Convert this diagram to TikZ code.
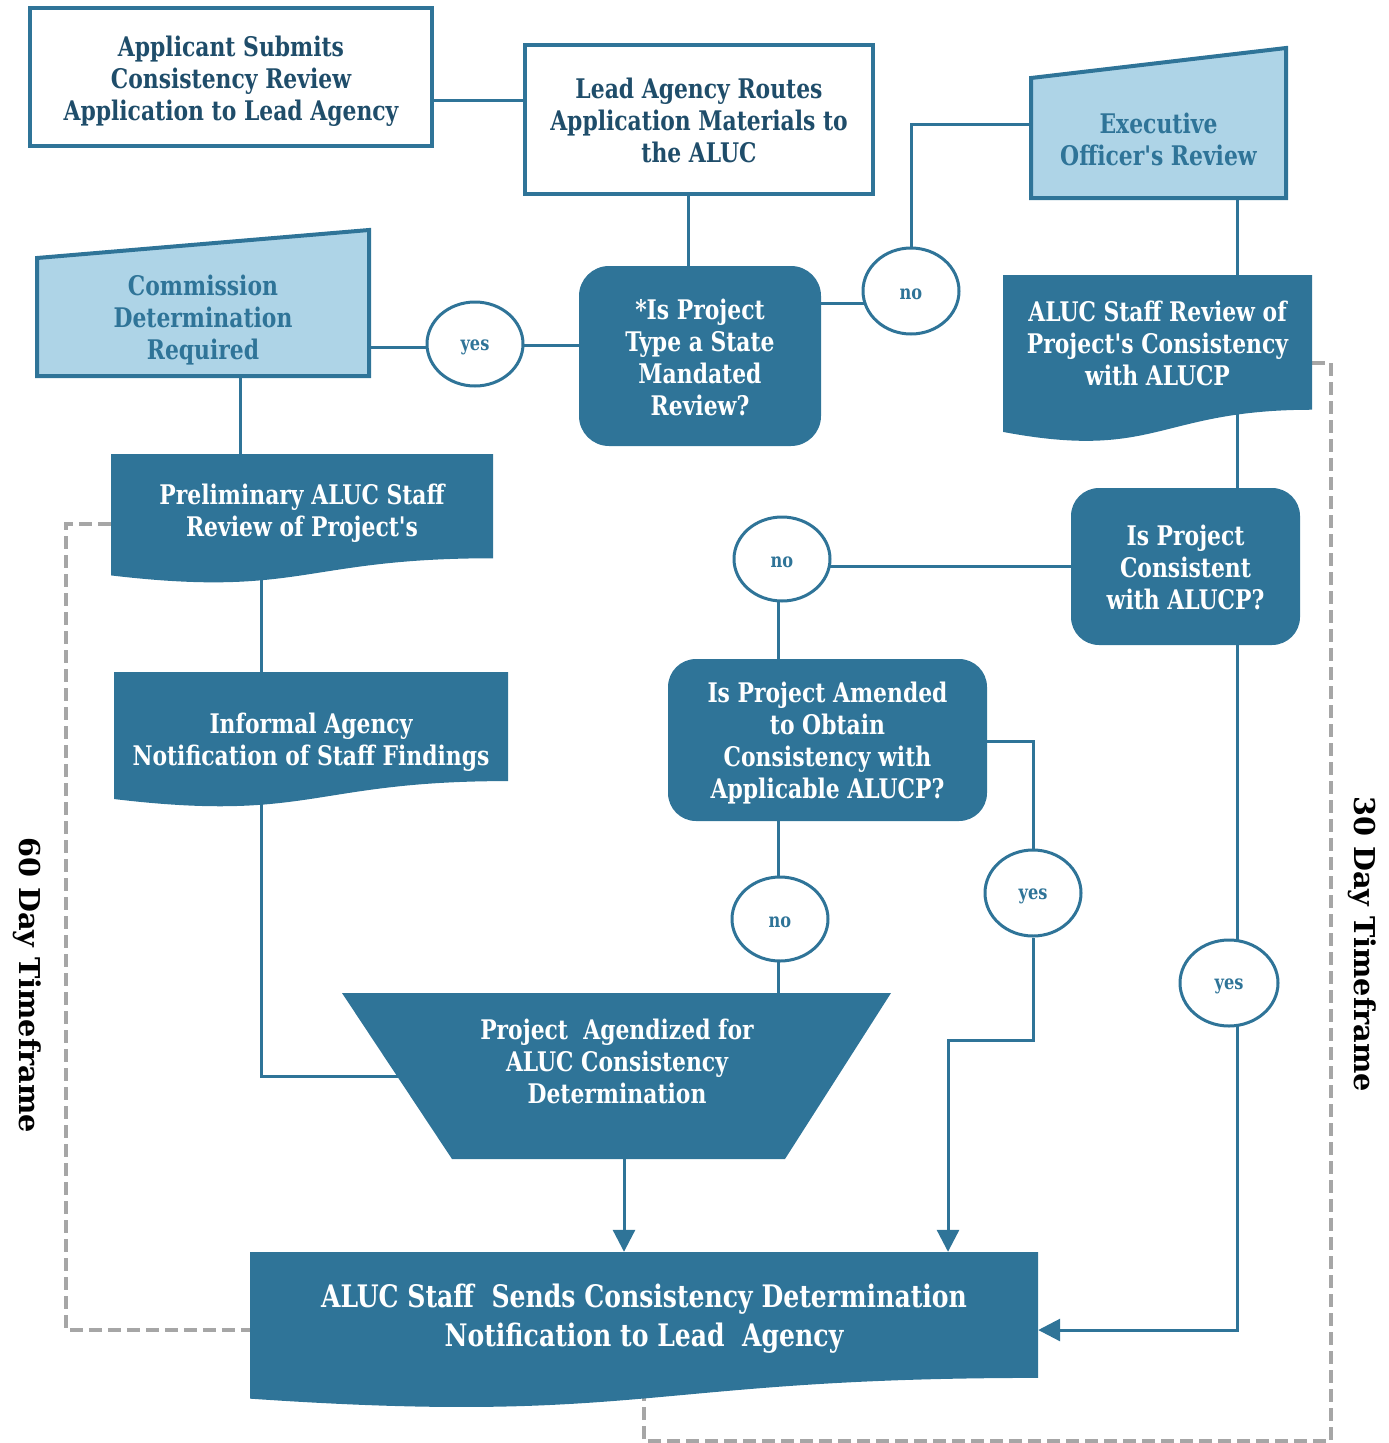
\documentclass[tikz,border=0pt]{standalone}
\usepackage{fontspec}
\setmainfont{DejaVu Serif}[FakeStretch=0.81, Ligatures=TeXOff]
\newfontfamily\lblfont{DejaVu Serif}
\usetikzlibrary{shapes.geometric,arrows.meta,calc}
\definecolor{myteal}{HTML}{2F7498}
\definecolor{lightb}{HTML}{AED4E7}
\definecolor{navy}{HTML}{1F4D6A}
\definecolor{dgray}{HTML}{A6A6A6}
\pgfdeclarelayer{background}
\pgfsetlayers{background,main}
\newcommand{\docshape}[4]{%
  \fill[myteal] (#1,#3) -- (#2,#3) -- (#2,{#3+0.802*#4})
   .. controls ({(#1+#2)/2},{#3+0.802*#4}) and ({(#1+#2)/2},{#3+1.107*#4}) ..
   (#1,{#3+0.934*#4}) -- cycle;}
\tikzset{
  txt/.style={align=center, font=\bfseries\fontsize{27}{32}\selectfont, inner sep=0pt},
  wtext/.style={txt, text=navy},
  ltext/.style={txt, text=myteal},
  dtext/.style={txt, text=white},
  wbox/.style={rectangle, draw=myteal, line width=4pt, fill=white},
  rbox/.style={rectangle, rounded corners=30pt, fill=myteal},
  ghost/.style={rectangle, inner sep=0pt},
  circtext/.style={text=myteal, font=\bfseries\fontsize{20}{22}\selectfont, inner sep=0pt, yshift=-3pt},
  circ/.style={ellipse, draw=myteal, line width=3pt, fill=white, inner sep=0pt,
    minimum width=96pt, minimum height=84pt},
  conn/.style={draw=myteal, line width=3pt},
  arr/.style={conn, -{Triangle[length=22pt, width=22pt]}},
  graydash/.style={draw=dgray, line width=4pt, dash pattern=on 13pt off 6pt},
  sidelabel/.style={rotate=-90, font=\lblfont\bfseries\fontsize{28.7}{32}\selectfont, text=black}
}
\begin{document}
\begin{tikzpicture}[x=1pt,y=-1pt]
\useasboundingbox (0,0) rectangle (1389,1443);

% ---- shapes drawn directly
\filldraw[fill=lightb, draw=myteal, line width=4pt, line join=miter]
  (37,258) -- (369,230) -- (369,376) -- (37,376) -- cycle;
\filldraw[fill=lightb, draw=myteal, line width=4pt, line join=miter]
  (1031,78) -- (1286,48) -- (1286,198) -- (1031,198) -- cycle;
\docshape{111}{493}{454}{130}
\docshape{114}{508}{672}{136}
\docshape{1003}{1312}{275}{168}
\docshape{250}{1038}{1252}{157}
\fill[myteal] (342,993) -- (891,993) -- (785,1159) -- (452,1159) -- cycle;

% ---- box nodes
\node[wbox, minimum width=402pt, minimum height=138pt] (A) at (231,77) {};
\node[wbox, minimum width=348pt, minimum height=149pt] (B) at (699,119.5) {};
\node[rbox, minimum width=242pt, minimum height=180pt] (C) at (700,356) {};
\node[rbox, rounded corners=28pt, minimum width=229pt, minimum height=157pt] (cons) at (1185.5,566.5) {};
\node[rbox, rounded corners=28pt, minimum width=319pt, minimum height=162pt] (amend) at (827.5,740) {};
\node[ghost, minimum width=788pt, minimum height=126pt] (final) at (644,1315) {};
\node[circ, label={[circtext]center:yes}] (yes1) at (475,344) {};
\node[circ, minimum height=86pt, label={[circtext]center:no}] (no1) at (911,291) {};
\node[circ, label={[circtext]center:no}] (no2) at (782,559) {};
\node[circ, label={[circtext]center:no}] (no3) at (780,919) {};
\node[circ, minimum height=86pt, label={[circtext]center:yes}] (yes2) at (1033,893) {};
\node[circ, minimum width=98pt, minimum height=86pt, label={[circtext]center:yes}] (yes3) at (1229,983) {};

% ---- text nodes
\node[wtext] (Atxt) at (231,81) {Applicant Submits\\Consistency Review\\Application to Lead Agency};
\node[wtext] (Btxt) at (699,120.5) {Lead Agency Routes\\Application Materials to\\the ALUC};
\node[dtext] (Ctxt) at (700,357) {*Is Project\\Type a State\\Mandated\\Review?};
\node[ltext, minimum width=332pt] (comm) at (203,320) {Commission\\Determination\\Required};
\node[ltext, minimum width=255pt] (exec) at (1158.5,139) {Executive\\Officer's Review};
\node[dtext, minimum width=309pt] (staff) at (1157.5,343.5) {ALUC Staff Review of\\Project's Consistency\\with ALUCP};
\node[dtext, minimum width=382pt] (prelim) at (302,513) {Preliminary ALUC Staff\\Review of Project's};
\node[dtext, minimum width=394pt] (informal) at (311,742) {Informal Agency\\Notification of Staff Findings};
\node[dtext] (constxt) at (1185.5,567.5) {Is Project\\Consistent\\with ALUCP?};
\node[dtext] (amendtxt) at (827.5,743) {Is Project Amended\\to Obtain\\Consistency with\\Applicable ALUCP?};
\node[dtext] (trap) at (617,1061) {Project\ \ Agendized for\\ALUC Consistency\\Determination};
\node[dtext, font=\bfseries\fontsize{31}{39}\selectfont] (finaltxt) at (644,1319)
  {ALUC Staff\ \ Sends Consistency Determination\\Notification to Lead\ \ Agency};
\node[sidelabel] (t60) at (27,985) {60 Day Timeframe};
\node[sidelabel] (t30) at (1362,944) {30 Day Timeframe};

% ---- connectors (behind shapes)
\begin{pgfonlayer}{background}
\draw[conn] ($(A.center)+(0,23)$) -- ($(B.center)+(0,-19.5)$);
\draw[conn] ($(B)+(-11,0)$) -- ($(C)+(-12,0)$);
\draw[conn] ($(C)+(0,-11)$) -- ($(yes1)+(0,1)$);
\draw[conn] ($(yes1)+(0,3)$) -- ($(comm)+(0,27)$);
\draw[conn] ($(comm)+(37,0)$) -- ($(prelim)+(-62,0)$);
\draw[conn] ($(prelim)+(-41,0)$) -- ($(informal)+(-50,0)$);
\draw[conn] ($(informal)+(-50,0)$) |- ($(trap)+(0,15)$);
\draw[arr] ($(trap)+(7,0)$) -- ($(final.north)+(-20,0)$);
\draw[conn] ($(C)+(0,-53)$) -- ($(no1)+(0,12)$);
\draw[conn] (no1) |- ($(exec)+(0,-15)$);
\draw[conn] ($(exec)+(78.5,0)$) -- ($(cons)+(51.5,0)$);
\draw[conn] (cons) -- (cons -| no2);
\draw[conn] ($(no2)+(-4,0)$) -- ($(amend)+(-49.5,0)$);
\draw[conn] ($(amend)+(-49.5,0)$) -- ($(no3)+(-2,0)$);
\draw[conn] ($(no3)+(-2,0)$) -- ($(trap)+(161,0)$);
\draw[conn] ($(amend)+(0,1)$) -| (yes2);
\draw[arr] (yes2) -- ($(yes2)+(0,147)$) -| ($(final.north)+(304,0)$);
\draw[conn] ($(cons)+(51.5,0)$) -- ($(yes3)+(8,0)$);
\draw[arr] ($(yes3)+(8,0)$) |- ($(final.east)+(0,15)$);
\draw[graydash] ($(prelim.west)+(0,11)$) -- ++(-45,0) |- ($(final.west)+(0,15)$);
\draw[graydash] ($(staff.east)+(0,19.5)$) -| ($(final.south)+(687,63)$) -| (final.south);
\end{pgfonlayer}
\end{tikzpicture}
\end{document}
